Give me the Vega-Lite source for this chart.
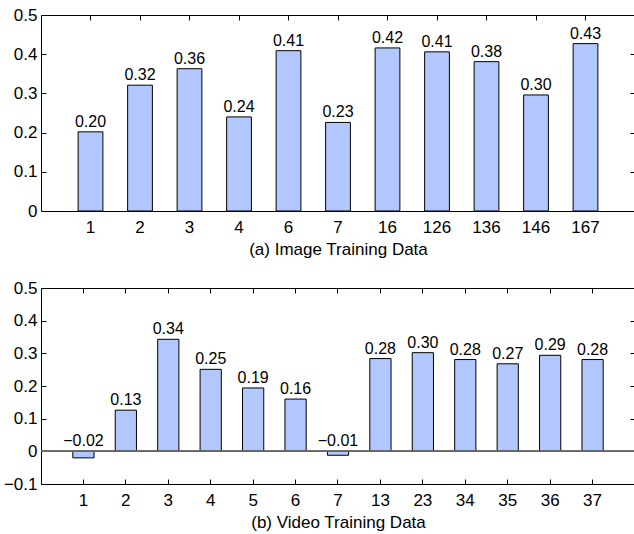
{
  "$schema": "https://vega.github.io/schema/vega-lite/v6.json",
  "padding": {"left": 2, "top": 5, "right": 0, "bottom": 0},
  "bounds": "flush",
  "spacing": 77,
  "config": {
    "font": "Liberation Sans",
    "view": {"stroke": "black", "strokeWidth": 1},
    "axis": {
      "domain": false,
      "grid": false,
      "tickColor": "black",
      "tickWidth": 1,
      "tickSize": -5,
      "labelColor": "black",
      "labelFont": "Liberation Sans",
      "labelFontSize": 17,
      "titleFont": "Liberation Sans",
      "titleFontSize": 17,
      "titleFontWeight": "normal",
      "titleColor": "black"
    }
  },
  "datasets": {
    "image": [
      {"k": "1", "v": 0.202},
      {"k": "2", "v": 0.321},
      {"k": "3", "v": 0.363},
      {"k": "4", "v": 0.24},
      {"k": "6", "v": 0.409},
      {"k": "7", "v": 0.226},
      {"k": "16", "v": 0.416},
      {"k": "126", "v": 0.406},
      {"k": "136", "v": 0.381},
      {"k": "146", "v": 0.296},
      {"k": "167", "v": 0.427}
    ],
    "video": [
      {"k": "1", "v": -0.02},
      {"k": "2", "v": 0.126},
      {"k": "3", "v": 0.343},
      {"k": "4", "v": 0.251},
      {"k": "5", "v": 0.194},
      {"k": "6", "v": 0.16},
      {"k": "7", "v": -0.012},
      {"k": "13", "v": 0.284},
      {"k": "23", "v": 0.302},
      {"k": "34", "v": 0.281},
      {"k": "35", "v": 0.268},
      {"k": "36", "v": 0.294},
      {"k": "37", "v": 0.281}
    ]
  },
  "vconcat": [
    {
      "width": 594,
      "height": 196,
      "data": {"name": "image"},
      "resolve": {"axis": {"x": "independent", "y": "independent"}},
      "layer": [
        {
          "mark": {"type": "bar", "fill": "#b3c7ff", "stroke": "black", "strokeWidth": 1},
          "encoding": {
            "x": {"field": "k", "type": "ordinal", "sort": null,
                  "scale": {"paddingInner": 0.5, "paddingOuter": 0.75},
                  "axis": {"orient": "bottom", "labelAngle": 0, "title": "(a) Image Training Data", "labelPadding": 13, "titlePadding": 6}},
            "y": {"field": "v", "type": "quantitative",
                  "scale": {"domain": [0, 0.5], "nice": false, "zero": false},
                  "axis": {"orient": "left", "title": null, "values": [0, 0.1, 0.2, 0.3, 0.4, 0.5],
                           "labelExpr": "datum.value == 0 ? '0' : format(datum.value, '.1f')", "labelPadding": 9}}
          }
        },
        {
          "mark": {"type": "text", "baseline": "alphabetic", "dy": -5, "fontSize": 16, "color": "black"},
          "encoding": {
            "x": {"field": "k", "type": "ordinal", "sort": null,
                  "axis": {"orient": "top", "labels": false, "title": null}},
            "y": {"field": "v", "type": "quantitative",
                  "axis": {"orient": "right", "labels": false, "title": null, "values": [0, 0.1, 0.2, 0.3, 0.4, 0.5]}},
            "text": {"field": "v", "type": "quantitative", "format": ".2f"}
          }
        }
      ]
    },
    {
      "width": 594,
      "height": 196,
      "data": {"name": "video"},
      "resolve": {"axis": {"x": "independent", "y": "independent"}},
      "layer": [
        {
          "mark": {"type": "bar", "fill": "#b3c7ff", "stroke": "black", "strokeWidth": 1},
          "encoding": {
            "x": {"field": "k", "type": "ordinal", "sort": null,
                  "scale": {"paddingInner": 0.5, "paddingOuter": 0.75},
                  "axis": {"orient": "bottom", "labelAngle": 0, "title": "(b) Video Training Data", "labelPadding": 13, "titlePadding": 6}},
            "y": {"field": "v", "type": "quantitative",
                  "scale": {"domain": [-0.1, 0.5], "nice": false, "zero": false},
                  "axis": {"orient": "left", "title": null, "values": [-0.1, 0, 0.1, 0.2, 0.3, 0.4, 0.5],
                           "labelExpr": "datum.value == 0 ? '0' : format(datum.value, '.1f')", "labelPadding": 9}}
          }
        },
        {
          "mark": {"type": "rule", "color": "#666666", "strokeWidth": 1},
          "encoding": {"y": {"datum": 0, "type": "quantitative", "axis": null}}
        },
        {
          "transform": [{"filter": "datum.v >= 0"}],
          "mark": {"type": "text", "baseline": "alphabetic", "dy": -5, "fontSize": 16, "color": "black"},
          "encoding": {
            "x": {"field": "k", "type": "ordinal", "sort": null,
                  "axis": {"orient": "top", "labels": false, "title": null}},
            "y": {"field": "v", "type": "quantitative",
                  "axis": {"orient": "right", "labels": false, "title": null, "values": [-0.1, 0, 0.1, 0.2, 0.3, 0.4, 0.5]}},
            "text": {"field": "v", "type": "quantitative", "format": ".2f"}
          }
        },
        {
          "transform": [{"filter": "datum.v < 0"}],
          "mark": {"type": "text", "baseline": "alphabetic", "dy": -5, "fontSize": 16, "color": "black"},
          "encoding": {
            "x": {"field": "k", "type": "ordinal", "sort": null, "axis": null},
            "y": {"datum": 0, "type": "quantitative", "axis": null},
            "text": {"field": "v", "type": "quantitative", "format": ".2f"}
          }
        }
      ]
    }
  ]
}
